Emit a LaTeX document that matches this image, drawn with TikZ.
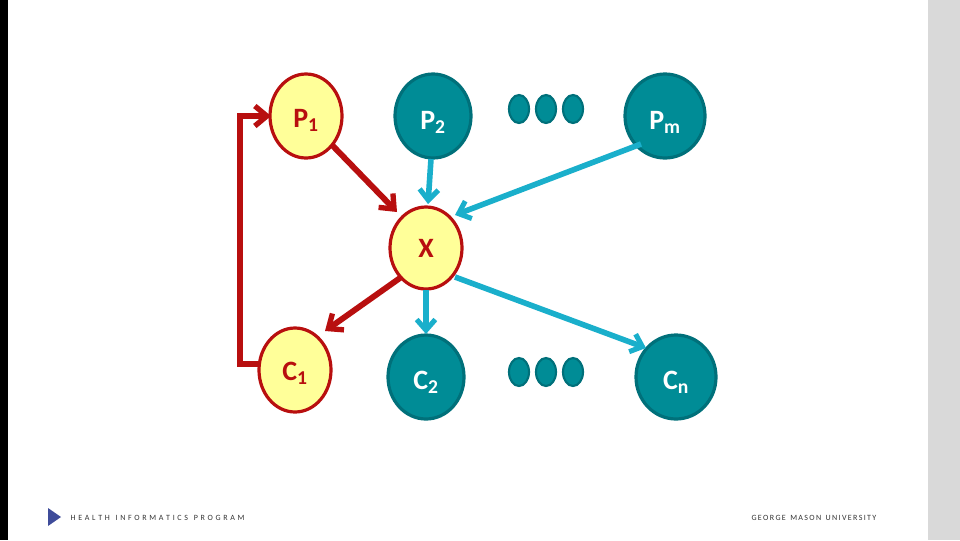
\documentclass[tikz,border=0pt]{standalone}
\usepackage{fontspec}
\setmainfont{Carlito}
\usetikzlibrary{arrows.meta}
\definecolor{rd}{HTML}{B80F0F}
\definecolor{yl}{HTML}{FFFF99}
\definecolor{tl}{HTML}{008C96}
\definecolor{tld}{HTML}{00707A}
\definecolor{cy}{HTML}{1AAFCB}
\definecolor{nv}{HTML}{3F4C9A}
\begin{document}
\begin{tikzpicture}[x=0.75pt,y=-0.75pt,
 ra/.style={draw=rd,line width=4.4pt,-{Straight Barb[length=9pt,width=15pt,line width=4pt]}},
 ca/.style={draw=cy,line width=4.2pt,-{Straight Barb[length=8pt,width=14pt,line width=3.8pt]}},
 lab/.style={font=\bfseries\fontsize{21}{22}\selectfont},
 foot/.style={font=\fontsize{6}{7}\selectfont,text=black!80,anchor=west}]
\useasboundingbox (0,0) rectangle (960,540);
\fill[black] (0,0) rectangle (8,540);
\fill[black!15] (928,0) rectangle (960,540);
\foreach \n/\x/\y/\rx/\ry/\s in {P1/306/116/36/42/yl,X/426/248/36/41/yl,C1/295/370/36/42/yl}{
 \draw[draw=rd,fill=yl,line width=2.4pt] (\x,\y) ellipse [x radius=\rx,y radius=\ry];
 \coordinate (\n) at (\x,\y);}
\foreach \n/\x/\y/\rx in {P2/433/116/38,Pm/665/116/40,C2/426/377/38,Cn/676/377/40}{
 \draw[draw=tld,fill=tl,line width=2.4pt] (\x,\y) ellipse [x radius=\rx,y radius=42];
 \coordinate (\n) at (\x,\y);}
\foreach \x in {519,546,573}{
 \draw[draw=tld,fill=tl,line width=1.6pt] (\x,109) ellipse [x radius=10,y radius=14];
 \draw[draw=tld,fill=tl,line width=1.6pt] (\x,372) ellipse [x radius=10,y radius=14];}
\node[lab,text=rd] (tP1) at (306,120) {P\textsubscript{1}};
\node[lab,text=rd] (tX) at (426,248) {X};
\node[lab,text=rd] (tC1) at (295,373) {C\textsubscript{1}};
\node[lab,text=white] (tP2) at (433,122) {P\textsubscript{2}};
\node[lab,text=white] (tPm) at (665,122) {P\textsubscript{m}};
\node[lab,text=white] (tC2) at (426,382) {C\textsubscript{2}};
\node[lab,text=white] (tCn) at (676,382) {C\textsubscript{n}};
\draw[ra] (332,145) -- (397,212);
\draw[ra] (400,278) -- (325,331);
\draw[ra,line join=miter] (258,364) -- (240,364) -- (240,116) -- (271,116);
\draw[ca] (431,159) -- (428,204);
\draw[ca] (641,144) -- (455,215);
\draw[ca] (426,290) -- (426,334);
\draw[ca] (455,277) -- (646,348);
\fill[nv] (48,508) -- (61,517) -- (48,526) -- cycle;
\node[foot] (hl) at (66,518) {H\,\,E\,\,A\,\,L\,\,T\,\,H\,\,\, I\,\,N\,\,F\,\,O\,\,R\,\,M\,\,A\,\,T\,\,I\,\,C\,\,S\,\,\, P\,\,R\,\,O\,\,G\,\,R\,\,A\,\,M};
\node[foot,anchor=east] (gm) at (881,518) {G\,E\,O\,R\,G\,E\,\, M\,A\,S\,O\,N\,\, U\,N\,I\,V\,E\,R\,S\,I\,T\,Y};
\end{tikzpicture}
\end{document}
